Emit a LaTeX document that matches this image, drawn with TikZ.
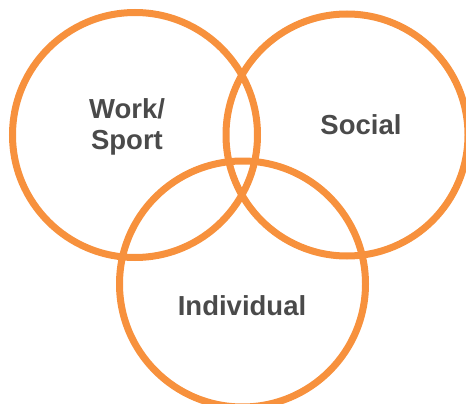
\documentclass[tikz,border=0pt]{standalone}
\usepackage{fontspec}
\setmainfont{Liberation Sans}
\definecolor{ring}{HTML}{F7913D}
\definecolor{txt}{HTML}{4A4A4A}
\begin{document}
\begin{tikzpicture}[x=1pt,y=-1pt,
  ringstyle/.style={circle,draw=ring,line width=7pt,inner sep=0pt},
  lbl/.style={text=txt,font=\fontsize{27.5}{31}\selectfont\bfseries,align=center,inner sep=0pt,anchor=base}]
\useasboundingbox (0,0) rectangle (466,404);
\begin{scope}
\clip (0,0) rectangle (466,404);
\node[ringstyle,minimum size=245pt] (work) at (135,135) {};
\node[ringstyle,minimum size=242pt] (social) at (347,135) {};
\node[ringstyle,minimum size=246pt] (indiv) at (242.5,284) {};
\end{scope}
\node[lbl] (tw) at (127,118) {Work/};
\node[lbl] (ts) at (127,149) {Sport};
\node[lbl] (tsoc) at (361,134) {Social};
\node[lbl] (tind) at (242,315) {Individual};
\end{tikzpicture}
\end{document}
